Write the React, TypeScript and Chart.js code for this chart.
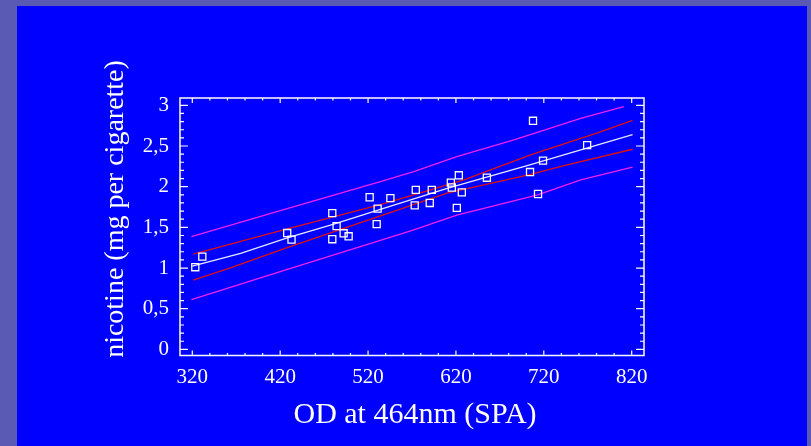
import React, { useEffect, useRef } from "react";
import { Chart, registerables } from "chart.js";

Chart.register(...registerables);

// ---- data ----
const xTickValues = [320, 420, 520, 620, 720, 820];
const yTickValues = [0, 0.5, 1, 1.5, 2, 2.5, 3];
const xTitle = "OD at 464nm (SPA)";
const yTitle = "nicotine (mg per cigarette)";

const pointX = [323.4, 331.4, 428, 432.9, 479.3, 479.3, 484.2, 492.2, 497.9, 521.8, 530.9, 529.8, 545.4, 574.3, 573.1, 592.5, 590.2, 614.2, 615.3, 623.3, 626.7, 621, 655.2, 707.7, 704.3, 719.1, 713.4, 769.3];
const pointY = [1.01, 1.14, 1.43, 1.35, 1.675, 1.354, 1.515, 1.427, 1.39, 1.87, 1.73, 1.54, 1.86, 1.96, 1.77, 1.96, 1.8, 2.05, 1.99, 2.14, 1.93, 1.74, 2.11, 2.81, 2.18, 2.32, 1.91, 2.51];

const fitX = [320, 375, 428, 481, 534, 610, 705, 821];
const fitY = [1.025, 1.18, 1.37, 1.54, 1.72, 1.98, 2.27, 2.64];

const confUpperX = [321, 428, 534, 572, 629, 705, 781, 821];
const confUpperY = [1.17, 1.48, 1.78, 1.9, 2.085, 2.39, 2.66, 2.815];
const confLowerX = [321, 360, 428, 534, 610, 705, 743, 821];
const confLowerY = [0.852, 0.99, 1.25, 1.64, 1.92, 2.15, 2.26, 2.46];

const predUpperX = [319, 428, 534, 572, 621, 686, 762, 811];
const predUpperY = [1.387, 1.73, 2.063, 2.186, 2.37, 2.575, 2.84, 2.985];
const predLowerX = [319, 430, 534, 572, 621, 713, 762, 821];
const predLowerY = [0.613, 0.99, 1.34, 1.47, 1.65, 1.9, 2.085, 2.24];

const zip = (xs: number[], ys: number[]) => xs.map((x, i) => ({ x, y: ys[i] }));

const FONT = "'Liberation Serif', 'Times New Roman', serif";
const W = 811;
const H = 446;

const backgroundPlugin = {
  id: "bg",
  beforeDraw(chart: any) {
    const { ctx } = chart;
    ctx.save();
    ctx.fillStyle = "#5a5ab4";
    ctx.fillRect(0, 0, W, H);
    ctx.fillStyle = "#0000ff";
    ctx.fillRect(17, 6, 790, H - 6);
    ctx.restore();
  },
};

const axesPlugin = {
  id: "axesBox",
  afterDraw(chart: any) {
    const { ctx, chartArea: a, scales } = chart;
    const xs = scales.x;
    const ys = scales.y;
    ctx.save();
    ctx.strokeStyle = "#ffffff";
    ctx.lineWidth = 1.5;
    ctx.strokeRect(a.left, a.top, a.right - a.left, a.bottom - a.top);
    ctx.lineWidth = 1.2;
    ctx.beginPath();
    // x ticks every 20, major every 100
    for (let v = 300; v <= 840; v += 20) {
      if (v < xs.min || v > xs.max) continue;
      const px = xs.getPixelForValue(v);
      const major = (v - 320) % 100 === 0;
      const len = major ? 5 : 2.5;
      ctx.moveTo(px, a.bottom);
      ctx.lineTo(px, a.bottom - len);
      ctx.moveTo(px, a.top);
      ctx.lineTo(px, a.top + len);
    }
    // y ticks every 0.1, major every 0.5
    for (let k = 0; k <= 31; k++) {
      const v = k / 10;
      if (v < ys.min || v > ys.max) continue;
      const py = ys.getPixelForValue(v);
      const major = k % 5 === 0;
      const len = major ? 8 : 4;
      ctx.moveTo(a.left, py);
      ctx.lineTo(a.left + len, py);
      ctx.moveTo(a.right, py);
      ctx.lineTo(a.right - len, py);
    }
    ctx.stroke();

    // axis titles
    ctx.fillStyle = "#ffffff";
    ctx.font = `30px ${FONT}`;
    ctx.textAlign = "center";
    ctx.textBaseline = "alphabetic";
    ctx.fillText(xTitle, (a.left + a.right) / 2 + 3, 423);
    ctx.save();
    ctx.translate(123, 209);
    ctx.rotate(-Math.PI / 2);
    ctx.font = `28px ${FONT}`;
    ctx.fillText(yTitle, 0, 0);
    ctx.restore();
    ctx.restore();
  },
};

export default function App() {
  const ref = useRef<HTMLCanvasElement | null>(null);

  useEffect(() => {
    if (!ref.current) return;
    const chart = new Chart(ref.current, {
      type: "scatter",
      data: {
        datasets: [
          {
            data: zip(pointX, pointY),
            showLine: false,
            pointStyle: "rect",
            pointRadius: 5,
            pointBorderColor: "#ffffff",
            pointBackgroundColor: "rgba(0,0,0,0)",
            pointBorderWidth: 1.3,
          },
          {
            data: zip(fitX, fitY),
            showLine: true,
            borderColor: "#e8e8ff",
            borderWidth: 1.3,
            pointRadius: 0,
          },
          {
            data: zip(confUpperX, confUpperY),
            showLine: true,
            borderColor: "#e01010",
            borderWidth: 1.3,
            pointRadius: 0,
          },
          {
            data: zip(confLowerX, confLowerY),
            showLine: true,
            borderColor: "#e01010",
            borderWidth: 1.3,
            pointRadius: 0,
          },
          {
            data: zip(predUpperX, predUpperY),
            showLine: true,
            borderColor: "#f020f0",
            borderWidth: 1.3,
            pointRadius: 0,
          },
          {
            data: zip(predLowerX, predLowerY),
            showLine: true,
            borderColor: "#f020f0",
            borderWidth: 1.3,
            pointRadius: 0,
          },
        ],
      },
      options: {
        responsive: false,
        animation: false,
        devicePixelRatio: 1,
        layout: { padding: { left: 0, top: 98, right: 167, bottom: 0 } },
        plugins: { legend: { display: false }, tooltip: { enabled: false } },
        scales: {
          x: {
            type: "linear",
            min: 306,
            max: 834,
            grid: { display: false, drawTicks: false },
            border: { display: false },
            afterFit: (s: any) => {
              s.height = 90.5;
            },
            afterBuildTicks: (s: any) => {
              s.ticks = xTickValues.map((v) => ({ value: v }));
            },
            ticks: {
              color: "#ffffff",
              padding: 9,
              maxRotation: 0,
              autoSkip: false,
              font: { family: FONT, size: 21 },
              callback: (v: any) => String(v),
            },
          },
          y: {
            type: "linear",
            min: -0.075,
            max: 3.09,
            grid: { display: false, drawTicks: false },
            border: { display: false },
            afterFit: (s: any) => {
              s.width = 180;
            },
            afterBuildTicks: (s: any) => {
              s.ticks = yTickValues.map((v) => ({ value: v }));
            },
            ticks: {
              color: "#ffffff",
              padding: 11,
              autoSkip: false,
              font: { family: FONT, size: 21 },
              callback: (v: any) => String(v).replace(".", ","),
            },
          },
        },
      },
      plugins: [backgroundPlugin, axesPlugin],
    });
    return () => chart.destroy();
  }, []);

  return (
    <div style={{ position: "fixed", left: 0, top: 0, width: W, height: H }}>
      <canvas ref={ref} width={W} height={H} style={{ display: "block" }} />
    </div>
  );
}
